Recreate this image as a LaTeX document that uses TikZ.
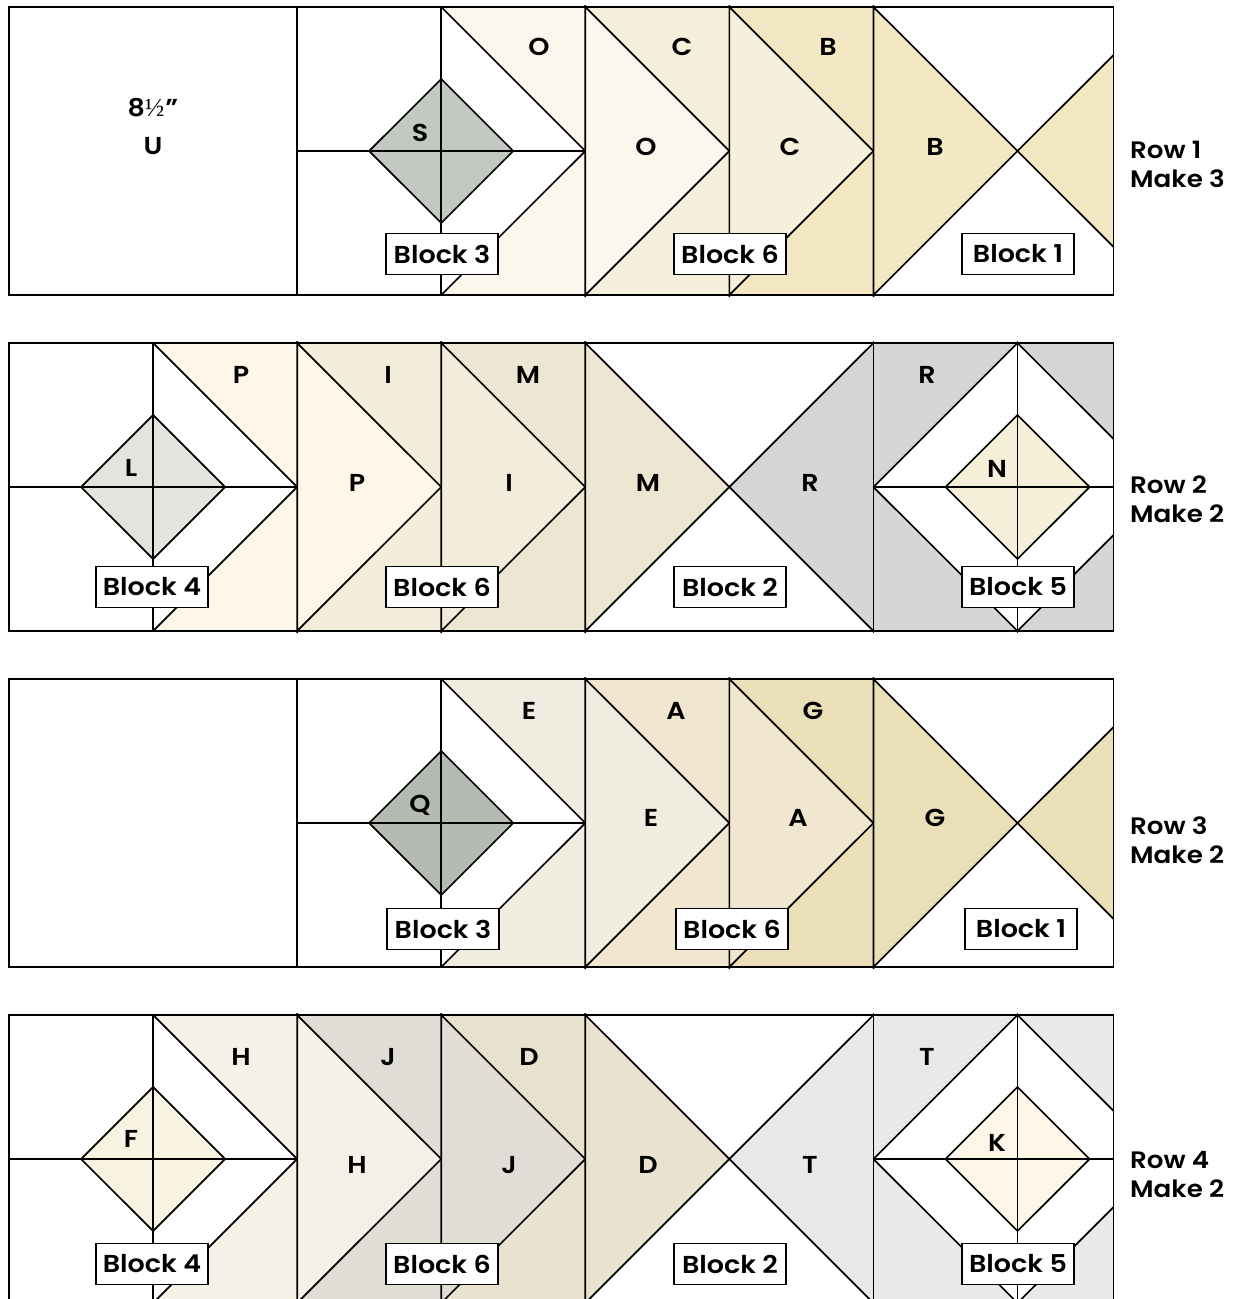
\documentclass[tikz,border=0pt]{standalone}
\usepackage{fontspec}
\setmainfont{Poppins}[BoldFont={Poppins SemiBold},BoldFeatures={FakeStretch=1.1}]
\newfontfamily\fracfont{Liberation Serif}
\definecolor{cS}{HTML}{C4C8C2}\definecolor{cO}{HTML}{FBF7EC}\definecolor{cC}{HTML}{F6EFDB}
\definecolor{cB}{HTML}{F3E7C4}\definecolor{cR}{HTML}{D6D6D6}\definecolor{cN}{HTML}{F5EFDA}
\definecolor{cP}{HTML}{FDF6E9}\definecolor{cI}{HTML}{F3ECDA}\definecolor{cM}{HTML}{EDE6D2}
\definecolor{cL}{HTML}{E2E4DE}\definecolor{cE}{HTML}{F0ECE0}\definecolor{cA}{HTML}{F1E6CF}
\definecolor{cG}{HTML}{EADFB8}\definecolor{cQ}{HTML}{B5BAB3}\definecolor{cH}{HTML}{F5F1E6}
\definecolor{cJ}{HTML}{DFDDD5}\definecolor{cD}{HTML}{E9E2CE}\definecolor{cT}{HTML}{E9E9E9}
\definecolor{cF}{HTML}{F9F3E2}\definecolor{cK}{HTML}{FEF7E8}
\tikzset{
  seam/.style={draw=black,line width=1.7pt,line join=miter},
  lab/.style={inner sep=0pt,font=\fontsize{24.5}{27}\selectfont\bfseries},
  blockbox/.style={draw=black,fill=white,line width=1.7pt,minimum width=112pt,minimum height=41pt,inner sep=0pt,font=\fontsize{24.5}{27}\selectfont\bfseries},
  rowlab/.style={inner sep=0pt,anchor=west,font=\fontsize{23.8}{27}\selectfont\bfseries},
}
% geese block: left edge x, front colour, back colour
\newcommand{\gooseblk}[3]{\begin{scope}[shift={(#1,0)}]
  \fill[#3] (0,0) rectangle (144,288);
  \fill[#2] (0,0) -- (144,144) -- (0,288) -- cycle;
  \draw[seam] (0,-2) -- (0,290) (0,0) -- (144,144) -- (0,288);
\end{scope}}
% block 3/4: left edge x, corner colour, diamond colour
\newcommand{\starblk}[3]{\begin{scope}[shift={(#1,0)}]
  \fill[#2] (144,0) -- (288,0) -- (288,288) -- (144,288) -- (288,144) -- cycle;
  \fill[#3] (72,144) -- (144,72) -- (216,144) -- (144,216) -- cycle;
  \draw[seam] (0,0) -- (0,288) (144,0) -- (144,288) (0,144) -- (288,144);
  \draw[seam] (144,0) -- (288,144) -- (144,288);
  \draw[seam] (72,144) -- (144,72) -- (216,144) -- (144,216) -- cycle;
\end{scope}}
% block 1: right part of rows 1 and 3
\newcommand{\tailblk}[1]{\begin{scope}[shift={(873,0)}]
  \fill[#1] (0,0) -- (144,144) -- (240,48) -- (240,240) -- (144,144) -- (0,288) -- cycle;
  \draw[seam] (0,-2) -- (0,290) (0,0) -- (144,144) -- (240,240) (0,288) -- (144,144) -- (240,48);
\end{scope}}
% block 2 and block 5: right part of rows 2 and 4
\newcommand{\twoblk}[3]{%
  \fill[#1] (585,0) -- (729,144) -- (585,288) -- cycle;
  \fill[#2] (873,0) -- (729,144) -- (873,288) -- cycle;
  \draw[seam] (585,-2) -- (585,290) (585,0) -- (729,144) -- (585,288) (873,0) -- (729,144) -- (873,288);
  \begin{scope}[shift={(873,0)}]
  \fill[#2] (0,0) -- (144,0) -- (0,144) -- (144,288) -- (0,288) -- cycle;
  \fill[#2] (144,0) -- (240,0) -- (240,96) -- cycle;
  \fill[#2] (144,288) -- (240,288) -- (240,192) -- cycle;
  \fill[#3] (72,144) -- (144,72) -- (216,144) -- (144,216) -- cycle;
  \draw[seam] (0,-2) -- (0,290) (144,-2) -- (144,290) (0,144) -- (240,144);
  \draw[seam] (0,144) -- (144,0) -- (240,96) (0,144) -- (144,288) -- (240,192);
  \draw[seam] (72,144) -- (144,72) -- (216,144) -- (144,216) -- cycle;
  \end{scope}}
\newcommand{\rowframe}{\draw[seam] (9,0) -- (1113,0) -- (1113,288) -- (9,288) -- cycle;}
\begin{document}
\begin{tikzpicture}[x=1pt,y=-1pt]
\useasboundingbox (0,0) rectangle (1233,1299);
\clip (0,0) rectangle (1233,1299);
\fill[white] (0,0) rectangle (1233,1299);
\begin{scope}[x=1.0005pt]
% Row 1
\begin{scope}[shift={(0,7)}]
  \draw[seam] (297,0) -- (297,288);
  \starblk{297}{cO}{cS}
  \gooseblk{585}{cO}{cC}
  \gooseblk{729}{cC}{cB}
  \tailblk{cB}
  \rowframe
\end{scope}
% Row 2
\begin{scope}[shift={(0,343)}]
  \starblk{9}{cP}{cL}
  \gooseblk{297}{cP}{cI}
  \gooseblk{441}{cI}{cM}
  \twoblk{cM}{cR}{cN}
  \rowframe
\end{scope}
% Row 3
\begin{scope}[shift={(0,679)}]
  \draw[seam] (297,0) -- (297,288);
  \starblk{297}{cE}{cQ}
  \gooseblk{585}{cE}{cA}
  \gooseblk{729}{cA}{cG}
  \tailblk{cG}
  \rowframe
\end{scope}
% Row 4
\begin{scope}[shift={(0,1015)}]
  \starblk{9}{cH}{cF}
  \gooseblk{297}{cH}{cJ}
  \gooseblk{441}{cJ}{cD}
  \twoblk{cD}{cT}{cK}
  \rowframe
\end{scope}
\end{scope}
% Row 1 labels
\node[lab] (size) at (153,108) {8{\fracfont\mdseries\fontsize{26}{28}\selectfont ½}\hspace{1pt}"};
\node[lab] (u) at (153,146) {U};
\node[lab] (o1) at (539,47) {O}; \node[lab] (c1) at (682,47) {C}; \node[lab] (b1) at (828,47) {B};
\node[lab] (s) at (420,133) {S}; \node[lab] (o2) at (646,147) {O}; \node[lab] (c2) at (790,147) {C}; \node[lab] (b2) at (935,147) {B};
\node[blockbox] (b3a) at (442,254) {Block 3};
\node[blockbox] (b6a) at (730,254) {Block 6};
\node[blockbox] (b1a) at (1018,254) {Block 1};
\node[rowlab] (r1a) at (1130,150) {Row 1};
\node[rowlab] (r1b) at (1130,179) {Make 3};
% Row 2 labels
\node[lab] (p1) at (241,375) {P}; \node[lab] (i1) at (388,375) {I}; \node[lab] (m1) at (528,375) {M}; \node[lab] (r1) at (927,375) {R};
\node[lab] (l) at (131,468) {L}; \node[lab] (p2) at (357,483) {P}; \node[lab] (i2) at (509,483) {I}; \node[lab] (m2) at (648,483) {M}; \node[lab] (r2) at (810,483) {R}; \node[lab] (n) at (997,469) {N};
\node[blockbox] (b4b) at (152,587) {Block 4};
\node[blockbox] (b6b) at (442,587) {Block 6};
\node[blockbox] (b2b) at (730,587) {Block 2};
\node[blockbox] (b5b) at (1018,587) {Block 5};
\node[rowlab] (r2a) at (1130,485) {Row 2};
\node[rowlab] (r2b) at (1130,514) {Make 2};
% Row 3 labels
\node[lab] (e1) at (529,711) {E}; \node[lab] (a1) at (676,711) {A}; \node[lab] (g1) at (813,711) {G};
\node[lab] (q) at (420,805) {Q}; \node[lab] (e2) at (651,818) {E}; \node[lab] (a2) at (798,818) {A}; \node[lab] (g2) at (935,818) {G};
\node[blockbox] (b3c) at (443,929) {Block 3};
\node[blockbox] (b6c) at (732,929) {Block 6};
\node[blockbox] (b1c) at (1021,929) {Block 1};
\node[rowlab] (r3a) at (1130,826) {Row 3};
\node[rowlab] (r3b) at (1130,855) {Make 2};
% Row 4 labels
\node[lab] (h1) at (241,1057) {H}; \node[lab] (j1) at (388,1057) {J}; \node[lab] (d1) at (529,1057) {D}; \node[lab] (t1) at (927,1057) {T};
\node[lab] (f) at (131,1139) {F}; \node[lab] (h2) at (357,1165) {H}; \node[lab] (j2) at (509,1165) {J}; \node[lab] (d2) at (648,1165) {D}; \node[lab] (t2) at (810,1165) {T}; \node[lab] (k) at (997,1143) {K};
\node[blockbox] (b4d) at (152,1264) {Block 4};
\node[blockbox] (b6d) at (442,1264) {Block 6};
\node[blockbox] (b2d) at (730,1264) {Block 2};
\node[blockbox] (b5d) at (1018,1264) {Block 5};
\node[rowlab] (r4a) at (1130,1160) {Row 4};
\node[rowlab] (r4b) at (1130,1189) {Make 2};
\end{tikzpicture}
\end{document}
